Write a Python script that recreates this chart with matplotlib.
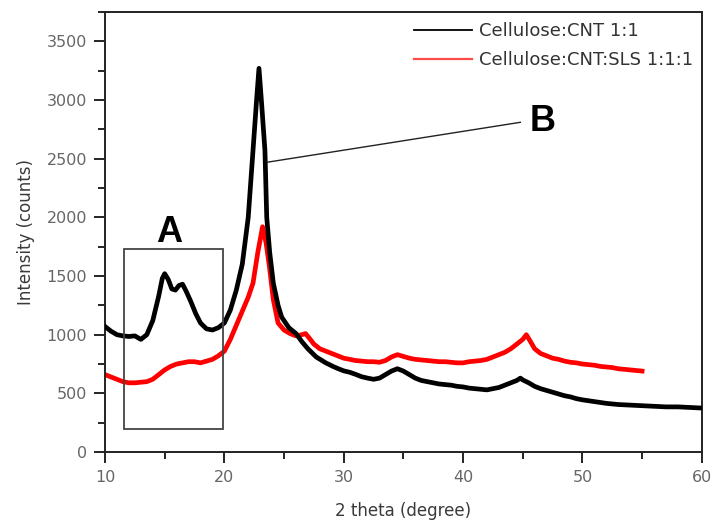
import numpy as np
import matplotlib.pyplot as plt
from matplotlib.patches import Rectangle
from matplotlib.lines import Line2D
from matplotlib.ticker import MultipleLocator

plt.rcParams['font.family'] = ['DejaVu Sans']

# XRD pattern, Cellulose:CNT 1:1
theta_cnt = [10.0, 10.5, 11.0, 11.5, 12.0, 12.5, 13.0, 13.5, 14.0, 14.5, 14.8, 15.0,
             15.3, 15.6, 15.9, 16.2, 16.5, 16.8, 17.2, 17.6, 18.0, 18.5, 19.0, 19.5,
             20.0, 20.5, 21.0, 21.5, 22.0, 22.4, 22.7, 22.9, 23.1, 23.4, 23.55, 23.8,
             24.1, 24.5, 24.8, 25.4, 26.0, 26.5, 27.0, 27.7, 28.5, 29.1, 29.5,
             30.0, 30.5, 31.0, 31.5, 32.0, 32.5, 33.0, 33.5, 34.0, 34.5,
             35.0, 35.5, 36.0, 36.5, 37.0, 37.5, 38.0, 38.5, 39.0, 39.5, 40.0, 40.5,
             41.0, 41.5, 42.0, 42.5, 43.0, 43.5, 44.0, 44.5, 44.8, 45.0, 45.5, 46.0,
             46.5, 47.0, 47.5, 48.0, 48.5, 49.0, 49.5, 50.0, 51.0, 52.0, 53.0, 54.0,
             55.0, 56.0, 57.0, 58.0, 59.0, 60.0]
counts_cnt = [1070, 1030, 1000, 990, 985, 990, 960, 1000, 1120, 1330, 1480, 1520,
              1470, 1390, 1380, 1420, 1430, 1370, 1280, 1180, 1100, 1050, 1040, 1060,
              1100, 1210, 1380, 1600, 2000, 2570, 3000, 3270, 3000, 2570, 2000, 1700,
              1440, 1250, 1150, 1060, 1010, 940, 880, 810, 760, 730, 712,
              692, 680, 662, 642, 630, 620, 630, 660, 690, 710,
              690, 660, 630, 610, 600, 590, 580, 575, 570, 560, 555, 545,
              540, 535, 530, 540, 550, 570, 590, 610, 630, 615, 590, 560,
              540, 525, 510, 495, 480, 470, 455, 445, 430, 415, 405, 400,
              395, 390, 385, 385, 380, 375]

# XRD pattern, Cellulose:CNT:SLS 1:1:1
theta_sls = [10.0, 10.5, 11.0, 11.5, 12.0, 12.5, 13.0, 13.5, 14.0, 14.5, 15.0, 15.5,
             16.0, 16.5, 17.0, 17.5, 18.0, 18.5, 19.0, 19.5, 20.0, 20.5, 21.0, 21.5,
             22.0, 22.4, 22.8, 23.2, 23.5, 23.8, 24.1, 24.5, 25.0, 25.5,
             26.0, 26.5, 26.8, 27.2, 27.5, 28.0, 28.5, 29.0, 29.5, 30.0, 30.5, 31.0, 31.5,
             32.0, 32.5, 33.0, 33.5, 34.0, 34.5, 35.0, 35.5, 36.0, 36.5, 37.0, 37.5,
             38.0, 38.5, 39.0, 39.5, 40.0, 40.5, 41.0, 41.5, 42.0, 42.5, 43.0, 43.5,
             44.0, 44.5, 45.0, 45.3, 45.6, 46.0, 46.5, 47.0, 47.5, 48.0, 48.5, 49.0,
             49.5, 50.0, 50.5, 51.0, 51.5, 52.0, 52.5, 53.0, 53.5, 54.0, 54.5, 55.0]
counts_sls = [660, 640, 620, 600, 590, 590, 595, 600, 620, 660, 700, 730,
              750, 760, 770, 770, 760, 775, 790, 820, 860, 960, 1080, 1200,
              1320, 1440, 1700, 1920, 1780, 1560, 1300, 1100, 1040, 1010,
              990, 1000, 1010, 960, 920, 880, 860, 840, 820, 800, 790, 780, 775,
              770, 770, 765, 780, 810, 830, 815, 800, 790, 785, 780, 775,
              770, 770, 765, 760, 760, 770, 775, 780, 790, 810, 830, 850,
              880, 920, 960, 1000, 950, 880, 840, 820, 800, 790, 775, 765,
              760, 750, 745, 740, 730, 725, 720, 710, 705, 700, 695, 690]

labels = ['Cellulose:CNT 1:1', 'Cellulose:CNT:SLS 1:1:1']
colors = ['black', '#ff0000']

fig = plt.figure(figsize=(7.11, 5.22), dpi=100)
ax = fig.add_axes([0.1477, 0.134, 0.8393, 0.843])

ax.plot(theta_cnt, counts_cnt, color=colors[0], lw=3.4, zorder=3,
        solid_joinstyle='round')
ax.plot(theta_sls, counts_sls, color=colors[1], lw=3.4, zorder=2,
        solid_joinstyle='round')

# region A box and label
ax.add_patch(Rectangle((11.6, 200), 8.3, 1530, fill=False, ec='#444444', lw=1.3, zorder=4))
ax.text(15.4, 1870, 'A', fontsize=26, fontweight='bold', ha='center', va='center',
        family='Liberation Sans')

# pointer to peak B
ax.plot([23.6, 44.8], [2470, 2810], color='#222222', lw=1.0, zorder=4)
ax.text(46.7, 2820, 'B', fontsize=26, fontweight='bold', ha='center', va='center',
        family='Liberation Sans')

handles = [Line2D([], [], color='black', lw=1.3),
           Line2D([], [], color='#ff4a4a', lw=1.6)]
leg = ax.legend(handles, labels, loc='upper right', bbox_to_anchor=(1.012, 1.014),
                frameon=False, handlelength=3.2, handletextpad=0.35,
                labelspacing=0.6, fontsize=13)
for t in leg.get_texts():
    t.set_color('#333333')

ax.set_xlim(10, 60)
ax.set_ylim(0, 3750)
ax.xaxis.set_major_locator(MultipleLocator(10))
ax.xaxis.set_minor_locator(MultipleLocator(5))
ax.yaxis.set_major_locator(MultipleLocator(500))
ax.yaxis.set_minor_locator(MultipleLocator(250))
ax.tick_params(which='major', direction='out', length=8, width=1.2,
               labelsize=11.5, labelcolor='#666666', top=False, right=False)
ax.tick_params(which='minor', direction='out', length=5, width=1.2,
               top=False, right=False)
ax.tick_params(axis='x', pad=5)
ax.tick_params(axis='y', pad=5)
for s in ax.spines.values():
    s.set_linewidth(1.4)
    s.set_color('#222222')

ax.set_xlabel('2 theta (degree)', fontsize=12, color='#3a3a3a', labelpad=12)
ax.set_ylabel('Intensity (counts)', fontsize=12, color='#3a3a3a', labelpad=8)

fig.savefig('out.png', dpi=100)
